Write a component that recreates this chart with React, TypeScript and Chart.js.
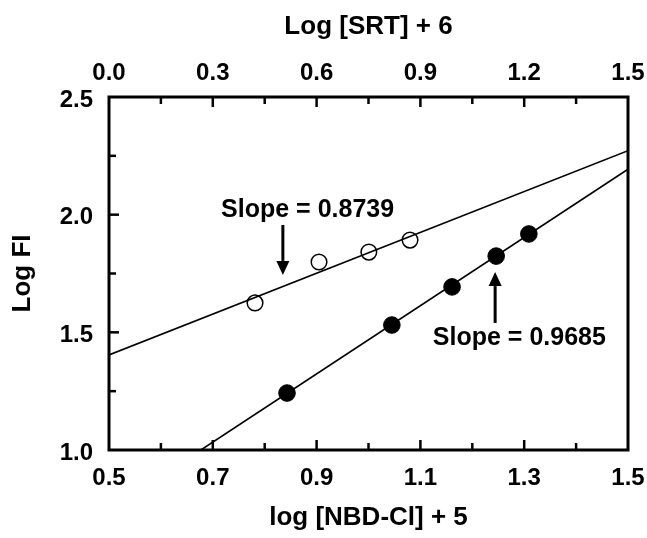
import React, { useEffect, useRef } from 'react';
import { Chart, registerables } from 'chart.js';
Chart.register(...registerables);

// Filled circles: log [NBD-Cl] + 5 (bottom axis)
const nbdX = [0.843, 1.045, 1.161, 1.246, 1.309];
const nbdY = [1.242, 1.531, 1.693, 1.824, 1.918];
// Open circles: Log [SRT] + 6 (top axis)
const srtX = [0.422, 0.607, 0.751, 0.870];
const srtY = [1.625, 1.799, 1.841, 1.892];
// Regression lines
const nbdFitX = [0.677, 1.5];
const nbdFitY = [1.0, 2.193];
const srtFitX = [0.0, 1.5];
const srtFitY = [1.404, 2.272];

// Axis ranges / tick labels
const bottomRange = [0.5, 1.5];
const bottomStep = 0.2;
const topRange = [0.0, 1.5];
const topStep = 0.3;
const yRange = [1.0, 2.5];
const yStep = 0.5;

const bottomTitle = 'log [NBD-Cl] + 5';
const topTitle = 'Log [SRT] + 6';
const yTitle = 'Log FI';

// Annotations (data coordinates, bottom x axis / y axis)
const noteTexts = ['Slope = 0.8739', 'Slope = 0.9685'];
const noteX = [0.716, 1.124];
const noteY = [2.02, 1.476];
const arrowX = [0.835, 1.244];
const arrowFrom = [1.956, 1.54];
const arrowTo = [1.744, 1.756];

const FONT = '"Liberation Sans", Arial, Helvetica, sans-serif';

const framePlugin = {
  id: 'frameTicks',
  afterDraw(chart: any) {
    const { ctx, chartArea } = chart;
    const { left, right, top, bottom } = chartArea;
    const xs = chart.scales.x;
    const xt = chart.scales.x2;
    const ys = chart.scales.y;
    ctx.save();
    ctx.strokeStyle = '#000';
    ctx.lineCap = 'butt';
    // inward ticks
    ctx.lineWidth = 2.5;
    const drawTicks = (scale: any, min: number, max: number, step: number, axis: string) => {
      const n = Math.round((max - min) / step);
      for (let i = 1; i < n; i++) {
        const v = min + i * step;
        const p = scale.getPixelForValue(v);
        const len = i % 2 === 0 ? 10 : 7;
        ctx.beginPath();
        if (axis === 'bottom') { ctx.moveTo(p, bottom); ctx.lineTo(p, bottom - len); }
        else if (axis === 'top') { ctx.moveTo(p, top); ctx.lineTo(p, top + len); }
        else { ctx.moveTo(left, p); ctx.lineTo(left + len, p); }
        ctx.stroke();
      }
    };
    drawTicks(xs, bottomRange[0], bottomRange[1], bottomStep / 2, 'bottom');
    drawTicks(xt, topRange[0], topRange[1], topStep / 2, 'top');
    drawTicks(ys, yRange[0], yRange[1], yStep / 2, 'left');
    // frame
    ctx.lineWidth = 3;
    ctx.strokeRect(left, top, right - left, bottom - top);
    // annotations
    ctx.fillStyle = '#000';
    ctx.font = `bold 25px ${FONT}`;
    ctx.textAlign = 'left';
    ctx.textBaseline = 'middle';
    noteTexts.forEach((t, i) => {
      ctx.fillText(t, xs.getPixelForValue(noteX[i]), ys.getPixelForValue(noteY[i]));
    });
    // arrows
    arrowX.forEach((ax, i) => {
      const x = xs.getPixelForValue(ax);
      const y0 = ys.getPixelForValue(arrowFrom[i]);
      const y1 = ys.getPixelForValue(arrowTo[i]);
      const dir = y1 > y0 ? 1 : -1;
      const headLen = 14;
      const half = 6.5;
      ctx.lineWidth = 3;
      ctx.beginPath();
      ctx.moveTo(x, y0);
      ctx.lineTo(x, y1 - dir * headLen);
      ctx.stroke();
      ctx.beginPath();
      ctx.moveTo(x, y1);
      ctx.lineTo(x - half, y1 - dir * headLen);
      ctx.lineTo(x + half, y1 - dir * headLen);
      ctx.closePath();
      ctx.fill();
    });
    ctx.restore();
  },
};

const fmt = (v: any) => Number(v).toFixed(1);

export default function App() {
  const ref = useRef<HTMLCanvasElement>(null);
  useEffect(() => {
    if (!ref.current) return;
    const tickFont = { family: FONT, size: 24, weight: 'bold' as const };
    const titleFont = { family: FONT, size: 26, weight: 'bold' as const };
    const chart = new Chart(ref.current, {
      type: 'scatter',
      data: {
        datasets: [
          {
            label: 'NBD fit',
            type: 'line',
            data: nbdFitX.map((x, i) => ({ x, y: nbdFitY[i] })),
            xAxisID: 'x',
            yAxisID: 'y',
            borderColor: '#000',
            borderWidth: 1.6,
            pointRadius: 0,
            fill: false,
          } as any,
          {
            label: 'SRT fit',
            type: 'line',
            data: srtFitX.map((x, i) => ({ x, y: srtFitY[i] })),
            xAxisID: 'x2',
            yAxisID: 'y',
            borderColor: '#000',
            borderWidth: 1.6,
            pointRadius: 0,
            fill: false,
          } as any,
          {
            label: 'NBD-Cl',
            data: nbdX.map((x, i) => ({ x, y: nbdY[i] })),
            xAxisID: 'x',
            yAxisID: 'y',
            pointRadius: 8.3,
            pointBackgroundColor: '#000',
            pointBorderColor: '#000',
            pointBorderWidth: 1,
          },
          {
            label: 'SRT',
            data: srtX.map((x, i) => ({ x, y: srtY[i] })),
            xAxisID: 'x2',
            yAxisID: 'y',
            pointRadius: 7.8,
            pointBackgroundColor: 'rgba(255,255,255,0)',
            pointBorderColor: '#000',
            pointBorderWidth: 1.5,
          },
        ],
      },
      options: {
        responsive: false,
        animation: false,
        devicePixelRatio: 1,
        layout: { padding: { left: 0, right: 19, top: 0, bottom: 0 } },
        plugins: { legend: { display: false }, tooltip: { enabled: false } },
        scales: {
          x: {
            type: 'linear',
            position: 'bottom',
            min: bottomRange[0],
            max: bottomRange[1],
            grid: { display: false, drawTicks: false },
            border: { display: false },
            ticks: { stepSize: bottomStep, padding: 14, color: '#000', font: tickFont, callback: fmt, maxRotation: 0, autoSkip: false },
            title: { display: true, text: bottomTitle, color: '#000', font: titleFont, padding: { top: 0, bottom: 5 } },
            afterFit: (s: any) => { s.height = 88; s.paddingLeft = 0; s.paddingRight = 0; },
          },
          x2: {
            type: 'linear',
            position: 'top',
            min: topRange[0],
            max: topRange[1],
            grid: { display: false, drawTicks: false },
            border: { display: false },
            ticks: { stepSize: topStep, padding: 9, color: '#000', font: tickFont, callback: fmt, maxRotation: 0, autoSkip: false },
            title: { display: true, text: topTitle, color: '#000', font: titleFont, padding: { top: 11, bottom: 0 } },
            afterFit: (s: any) => { s.height = 97; s.paddingLeft = 0; s.paddingRight = 0; },
          },
          y: {
            type: 'linear',
            position: 'left',
            min: yRange[0],
            max: yRange[1],
            grid: { display: false, drawTicks: false },
            border: { display: false },
            ticks: { stepSize: yStep, padding: 16, labelOffset: 3, color: '#000', font: tickFont, callback: fmt },
            title: { display: true, text: yTitle, color: '#000', font: titleFont, padding: { top: 7, bottom: 0 } },
            afterFit: (s: any) => { s.width = 109; s.paddingTop = 0; s.paddingBottom = 0; },
          },
        },
      },
      plugins: [framePlugin],
    });
    return () => chart.destroy();
  }, []);
  return (
    <div style={{ position: 'fixed', left: 0, top: 0, width: 647, height: 538, background: '#fff' }}>
      <canvas ref={ref} width={647} height={538} style={{ display: 'block', width: 647, height: 538 }} />
    </div>
  );
}
